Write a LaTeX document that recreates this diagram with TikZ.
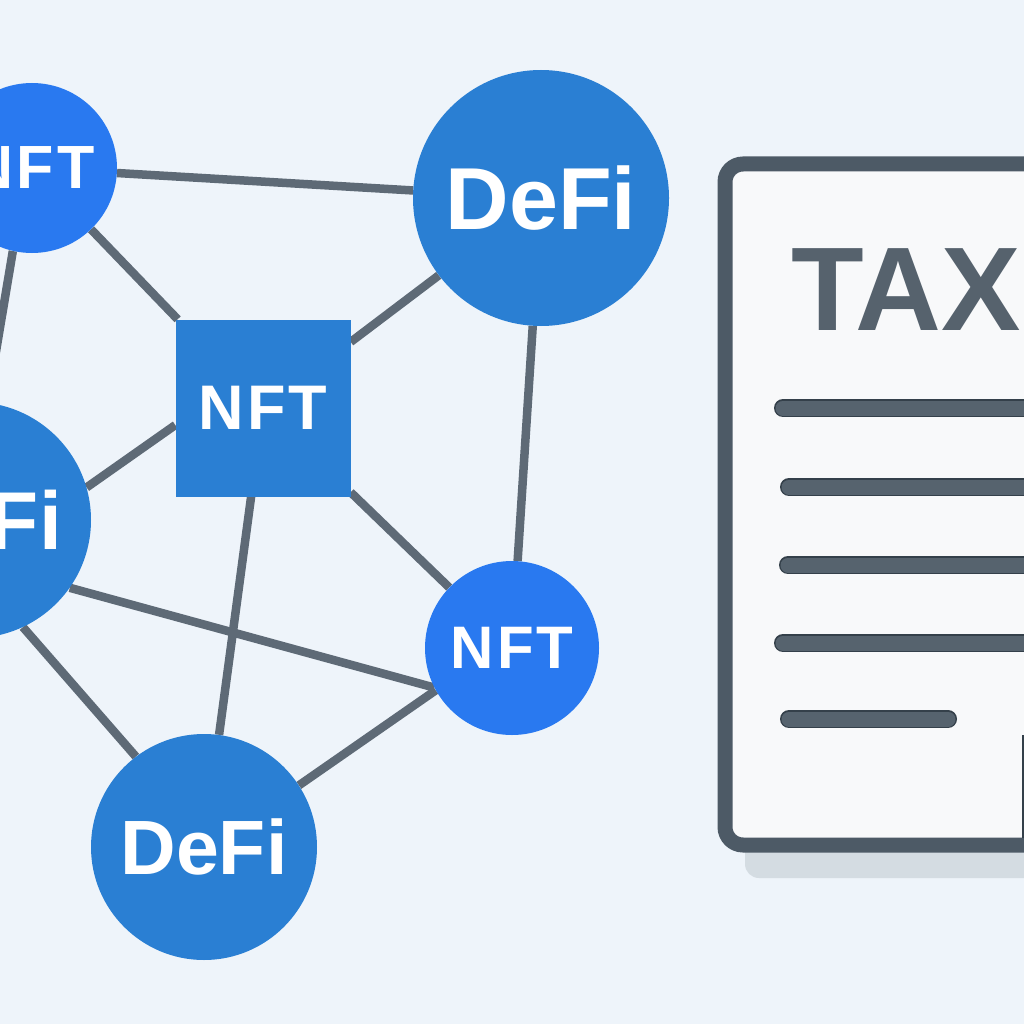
\documentclass[tikz,border=0pt]{standalone}
\usepackage{fontspec}
\setmainfont{Liberation Sans}
\usetikzlibrary{backgrounds}
\definecolor{bgc}{HTML}{EEF4FA}
\definecolor{brightblue}{HTML}{2979F0}
\definecolor{midblue}{HTML}{2A7FD3}
\definecolor{edgec}{HTML}{5E6A76}
\definecolor{docline}{HTML}{4D5A66}
\definecolor{docdark}{HTML}{34404A}
\definecolor{docfill}{HTML}{F8F9FA}
\definecolor{shadowc}{HTML}{D4DCE2}
\definecolor{taxc}{HTML}{56626D}
\definecolor{barc}{HTML}{56636E}
\tikzset{
  hub/.style={circle, inner sep=0pt, text=white},
  nftfont/.style={font=\bfseries\fontsize{#1}{#1}\selectfont\addfontfeature{LetterSpace=5}},
  defifont/.style={font=\bfseries\fontsize{#1}{#1}\selectfont},
  link/.style={draw=edgec, line width=8.5pt}
}
\begin{document}
\begin{tikzpicture}[x=1pt,y=-1pt]
\useasboundingbox (0,0) rectangle (1024,1024);
\clip (0,0) rectangle (1024,1024);

% nodes
\node[hub, fill=brightblue, minimum size=170pt, nftfont=61] (nfttl) at (32,168) {NFT};
\node[hub, fill=midblue, minimum size=256pt, defifont=88] (defitop) at (541,198) {DeFi};
\node[rectangle, fill=midblue, inner sep=0pt, minimum width=175pt, minimum height=177pt, text=white, nftfont=63] (nftsq) at (263,408) {NFT};
\node[hub, fill=midblue, minimum size=236pt, defifont=82] (defil) at (-27,520) {DeFi};
\node[hub, fill=brightblue, minimum size=174pt, nftfont=60] (nftr) at (512,648) {NFT};
\node[hub, fill=midblue, minimum size=226pt, defifont=77] (defib) at (204,847) {DeFi};

\begin{pgfonlayer}{background}
\fill[bgc] (0,0) rectangle (1024,1024);
\draw[link] (nfttl) -- (defitop);
\draw[link] (nfttl) -- (nftsq);
\draw[link] (nfttl.-103) -- (defil.83);
\draw[link] (defitop) -- (nftsq);
\draw[link] (defitop) -- (nftr);
\draw[link] (nftsq.191) -- (defil.16);
\draw[link] (nftsq) -- (nftr);
\draw[link] (nftsq) -- (defib);
\draw[link] (defil.-35) -- (nftr.207);
\draw[link] (defil.-65) -- (defib.127);
\draw[link] (nftr.209) -- (defib.33);
\end{pgfonlayer}

% tax document
\fill[shadowc, rounded corners=14pt] (745,835) rectangle (1060,878);
\draw[docline, fill=docfill, line width=15pt, rounded corners=18pt] (725,164) rectangle (1060,845);
\node[anchor=base west, inner sep=0pt, text=taxc, font=\bfseries\fontsize{119}{119}\selectfont] (tax) at (791,330) {TAX};
\foreach \y/\xa/\xb in {408/783/1040, 487/789/1040, 565/788/1040, 643/783/1040, 719/789/948}{
  \draw[line width=18pt, line cap=round, draw=docdark] (\xa,\y) -- (\xb,\y);
  \draw[line width=15pt, line cap=round, draw=barc] (\xa,\y) -- (\xb,\y);
}
\draw[docdark, line width=2pt] (1023,735) -- (1023,838);
\end{tikzpicture}
\end{document}
